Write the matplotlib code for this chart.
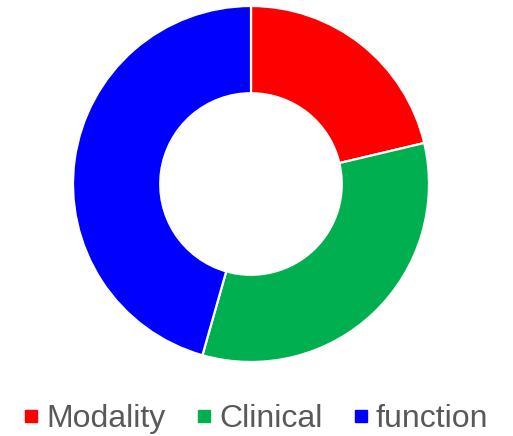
import matplotlib
matplotlib.use("Agg")
import matplotlib.pyplot as plt
from matplotlib.lines import Line2D

categories = ["Modality", "Clinical", "function"]
values = [21.3, 33.1, 45.6]
colors = ["#FF0000", "#00B050", "#0000FF"]

plt.rcParams['font.family'] = ['Liberation Sans', 'DejaVu Sans']

W, H = 513, 436
fig = plt.figure(figsize=(W / 100, H / 100), dpi=100)
cx, cy, r = 251, 184, 178
ax = fig.add_axes([(cx - r) / W, (H - cy - r) / H, 2 * r / W, 2 * r / H])
ax.pie(values, colors=colors, startangle=90, counterclock=False, radius=1,
       wedgeprops=dict(width=0.49, edgecolor='white', linewidth=1.6))
ax.set_xlim(-1, 1)
ax.set_ylim(-1, 1)
ax.set_aspect('equal')
ax.axis('off')

handles = [Line2D([0], [0], marker='s', linestyle='none', markersize=8.5,
                  markerfacecolor=c, markeredgecolor=c) for c in colors]
leg = fig.legend(handles, categories, loc='center', bbox_to_anchor=(0.5, 1 - 419 / H),
                 ncol=3, frameon=False, fontsize=23, handlelength=0.4,
                 handletextpad=0.27, columnspacing=1.0, borderaxespad=0)
for t in leg.get_texts():
    t.set_color('#595959')

fig.savefig("out.png", dpi=100)
